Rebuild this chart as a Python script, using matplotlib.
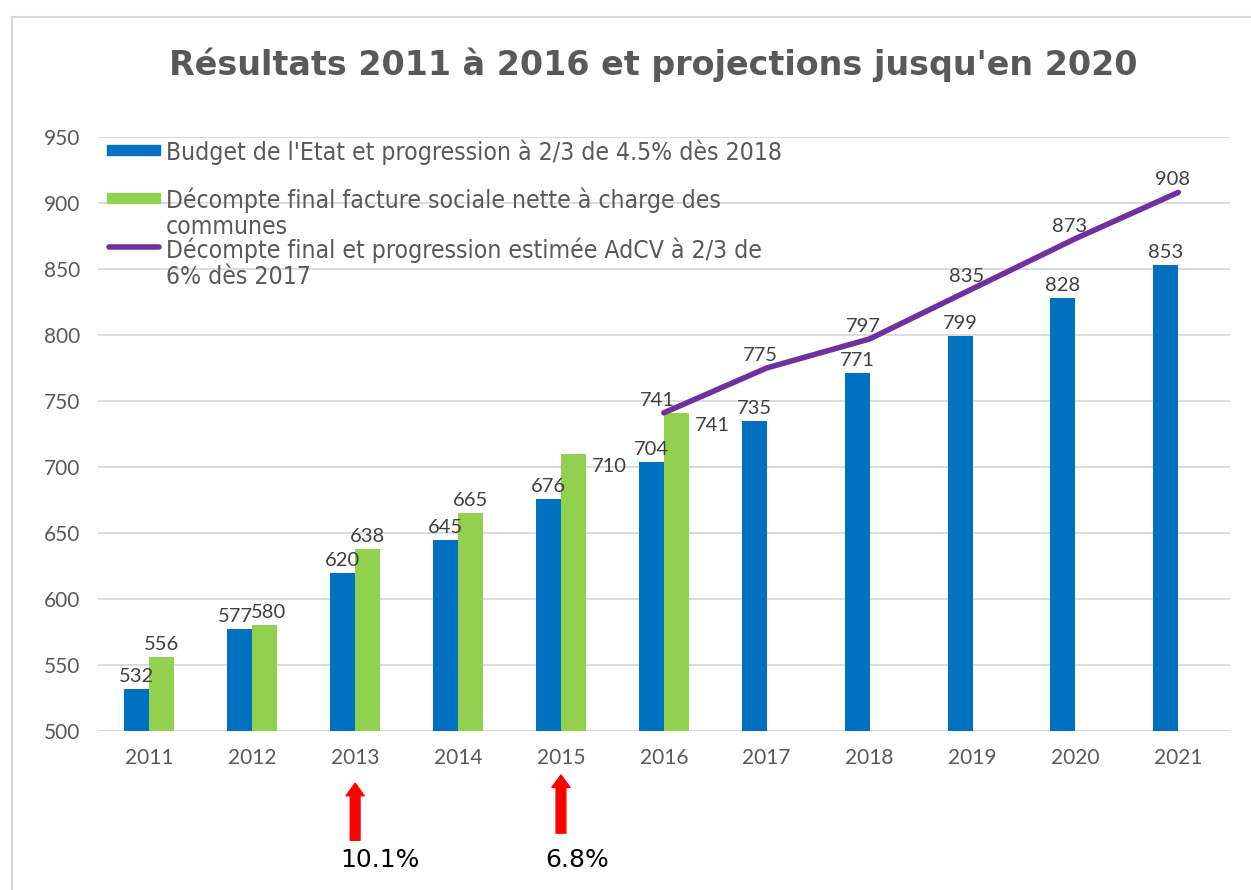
import matplotlib
matplotlib.use("Agg")
import matplotlib.pyplot as plt
from matplotlib.patches import Rectangle
from matplotlib.lines import Line2D
from matplotlib import font_manager
import numpy as np

annees = ["2011", "2012", "2013", "2014", "2015", "2016", "2017", "2018", "2019", "2020", "2021"]
budget_etat = [532, 577, 620, 645, 676, 704, 735, 771, 799, 828, 853]
decompte_final = [556, 580, 638, 665, 710, 741]
progression_adcv = [741, 775, 797, 835, 873, 908]
debut_ligne = 5  # 2016
fleches = [(2, "10.1%"), (4, "6.8%")]

bleu = "#0070C0"
vert = "#92D050"
violet = "#7030A0"
gris_texte = "#595959"
gris_label = "#404040"

W, H = 1251, 890
plt.rcParams["font.family"] = ["Lato", "DejaVu Sans"]

fig = plt.figure(figsize=(W / 100, H / 100), dpi=100)
ax = fig.add_axes([0.0783, 0.1787, 0.9047, 0.6674])

x = np.arange(len(annees))
w = 0.243

# barres
ax.bar(x - w / 2, budget_etat, w, color=bleu, zorder=2)
xg = x[:len(decompte_final)]
ax.bar(xg + w / 2, decompte_final, w, color=vert, zorder=2)
xl = x[debut_ligne:debut_ligne + len(progression_adcv)]
ax.plot(xl, progression_adcv, color=violet, lw=4, solid_capstyle="round", zorder=3)

# étiquettes
for xi, v in zip(x, budget_etat):
    dx = -0.04 if xi == 1 else 0
    ax.text(xi - w / 2 + dx, v + 3, str(v), ha="center", va="bottom", fontsize=14.5, color=gris_label)
for i, (xi, v) in enumerate(zip(xg, decompte_final)):
    if i >= 4:
        ax.text(xi + w + 0.06, v - 3, str(v), ha="left", va="top", fontsize=14.5, color=gris_label)
    else:
        dx = 0.04 if xi == 1 else 0
        ax.text(xi + w / 2 + dx, v + 3, str(v), ha="center", va="bottom", fontsize=14.5, color=gris_label)
for xi, v in zip(xl, progression_adcv):
    ax.text(xi - 0.06, v + 3, str(v), ha="center", va="bottom", fontsize=14.5, color=gris_label)

ax.set_xlim(-0.5, len(annees) - 0.5)
ax.set_ylim(500, 950)
ax.set_yticks(range(500, 951, 50))
ax.set_xticks(x)
ax.set_xticklabels(annees)
ax.tick_params(axis="both", length=0, labelsize=15, labelcolor=gris_texte)
ax.tick_params(axis="x", pad=12)
ax.tick_params(axis="y", pad=13)
ax.grid(axis="y", color="#D9D9D9", lw=1.3, zorder=0)
ax.set_axisbelow(True)
for s in ax.spines.values():
    s.set_visible(False)

# légende (placée à la main, en pixels)
libelles = [
    ["Budget de l'Etat et progression à 2/3 de 4.5% dès 2018"],
    ["Décompte final facture sociale nette à charge des", "communes"],
    ["Décompte final et progression estimée AdCV à 2/3 de", "6% dès 2017"],
]
lignes_y = [[150], [198, 225], [248, 275]]
police_leg = font_manager.FontProperties(family="DejaVu Sans", stretch="condensed", size=17.7)
fig.patches.append(Rectangle((107 / W, 1 - 155 / H), 53 / W, 10 / H, transform=fig.transFigure,
                             color=bleu))
fig.patches.append(Rectangle((107 / W, 1 - 203 / H), 53 / W, 10 / H, transform=fig.transFigure,
                             color=vert))
fig.lines.append(Line2D([109 / W, 159 / W], [1 - 247 / H] * 2, transform=fig.transFigure,
                        color=violet, lw=4, solid_capstyle="round"))
for lib, ys in zip(libelles, lignes_y):
    for t, y in zip(lib, ys):
        fig.text(166 / W, 1 - y / H, t, ha="left", va="center_baseline", color=gris_texte,
                 fontproperties=police_leg)

# titre
fig.text(0.522, 0.927, "Résultats 2011 à 2016 et projections jusqu'en 2020", ha="center", va="center",
         fontsize=24, fontweight="bold", color=gris_texte, family=["DejaVu Sans"])

# flèches rouges
trans = ax.get_xaxis_transform()
ax.annotate("", xy=(fleches[0][0], -0.088), xytext=(fleches[0][0], -0.184), xycoords=trans,
            textcoords=trans, arrowprops=dict(width=7, headwidth=13, headlength=9, color="red", shrink=0))
ax.annotate("", xy=(fleches[1][0], -0.074), xytext=(fleches[1][0], -0.172), xycoords=trans,
            textcoords=trans, arrowprops=dict(width=7, headwidth=13, headlength=9, color="red", shrink=0))
ax.text(fleches[0][0] + 0.24, -0.217, fleches[0][1], transform=trans, ha="center", va="center",
        fontsize=18, color="black", family=["DejaVu Sans"])
ax.text(fleches[1][0] + 0.16, -0.217, fleches[1][1], transform=trans, ha="center", va="center",
        fontsize=18, color="black", family=["DejaVu Sans"])

# cadre
fig.patches.append(Rectangle((12 / W, -0.1), 1.1, 1.1 - 17 / H, transform=fig.transFigure,
                             fill=False, edgecolor="#D9D9D9", lw=1.5))

fig.savefig("out.png", dpi=100)
